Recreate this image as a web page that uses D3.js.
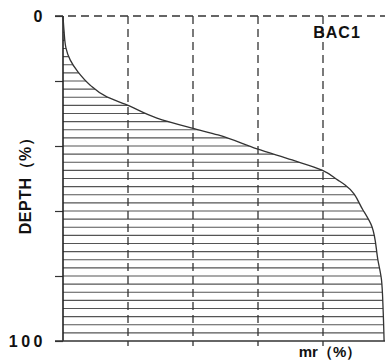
<!DOCTYPE html>
<html>
<head>
<meta charset="utf-8">
<script src="https://cdn.jsdelivr.net/npm/d3@7"></script>
<style>
  body { margin: 0; background: #fff; }
  svg { display: block; }
  text { font-family: "Liberation Sans", Arial, sans-serif; font-weight: bold; fill: #111; }
</style>
</head>
<body>
<svg width="385" height="362"></svg>
<script>
// curve: mr (%) against depth (%)
let depth = [0, 4.3, 9.8, 13.5, 17.2, 21.2, 24.9, 27.1, 31.4, 34.5, 36.6, 40.9, 44.3, 47.4, 50.5, 52, 59.7, 64.9, 75.1, 81.2, 90.5, 100];
let mr    = [0, 0.3, 0.9, 2.2, 4.6, 8.3, 13.5, 19.1, 28.9, 39.7, 47.7, 59.7, 70.5, 79.7, 84.6, 86.8, 92.3, 95.1, 96.9, 98.0, 98.5, 98.8];
let hatchDepths = [2.5, 5, 7.5, 10, 12.5, 15, 17.5, 20, 22.5, 25, 27.5, 30, 32.5, 35, 37.5, 40, 42.5, 45, 47.5, 50,
                   52.5, 55, 57.5, 60, 62.5, 65, 67.5, 70, 72.5, 75, 77.5, 80, 82.5, 85, 87.5, 90, 92.5, 95, 97.5];
let xGrid = [20, 40, 60, 80];
let yTicks = [0, 20, 40, 60, 80, 100];
let yLabels = [0, 100];
let seriesName = "BAC1";

let data = depth.map(function(d, i) { return {depth: d, mr: mr[i]}; });

let svg = d3.select("svg");
let x = d3.scaleLinear().domain([0, 100]).range([63, 388]);
let y = d3.scaleLinear().domain([0, 100]).range([16, 341]);

// area under the curve, used as clip for the hatching
let area = d3.area()
    .y(function(d) { return y(d.depth); })
    .x0(x(0))
    .x1(function(d) { return x(d.mr); })
    .curve(d3.curveMonotoneY);

svg.append("clipPath").attr("id", "under")
   .append("path").datum(data).attr("d", area);

// hatch lines
svg.append("g").attr("clip-path", "url(#under)")
   .selectAll("line").data(hatchDepths).enter().append("line")
   .attr("x1", x(0)).attr("x2", x(100))
   .attr("y1", function(d) { return y(d); })
   .attr("y2", function(d) { return y(d); })
   .attr("stroke", "#555").attr("stroke-width", 1.2);

// vertical dashed grid
svg.append("g").selectAll("line").data(xGrid).enter().append("line")
   .attr("x1", function(d) { return x(d); })
   .attr("x2", function(d) { return x(d); })
   .attr("y1", y(0)).attr("y2", y(100) + 5)
   .attr("stroke", "#333").attr("stroke-width", 1.3)
   .attr("stroke-dasharray", "8,5");

// top dashed line
svg.append("line")
   .attr("x1", x(0) - 8).attr("x2", 385)
   .attr("y1", y(0)).attr("y2", y(0))
   .attr("stroke", "#333").attr("stroke-width", 1.3)
   .attr("stroke-dasharray", "8,5");

// left axis
let yAxis = d3.axisLeft(y).tickValues(yTicks).tickSize(8).tickFormat("");
let ga = svg.append("g").attr("transform", "translate(" + x(0) + ",0)").call(yAxis);
ga.select(".domain").remove();
ga.selectAll("line").attr("stroke", "#333").attr("stroke-width", 1.2);
svg.append("line")
   .attr("x1", x(0)).attr("x2", x(0))
   .attr("y1", y(0)).attr("y2", y(100))
   .attr("stroke", "#222").attr("stroke-width", 1.6);

// bottom axis line
svg.append("line")
   .attr("x1", x(0) - 8).attr("x2", 385)
   .attr("y1", y(100)).attr("y2", y(100))
   .attr("stroke", "#333").attr("stroke-width", 1.6);

// curve
let line = d3.line()
    .x(function(d) { return x(d.mr); })
    .y(function(d) { return y(d.depth); })
    .curve(d3.curveMonotoneY);

svg.append("path").datum(data)
   .attr("fill", "none").attr("stroke", "#333").attr("stroke-width", 1.3)
   .attr("d", line);

// tick labels
svg.selectAll("text.ylab").data(yLabels).enter().append("text")
   .attr("class", "ylab")
   .attr("x", 46).attr("y", function(d) { return y(d) + 6; })
   .attr("text-anchor", "end")
   .attr("font-size", 16).attr("letter-spacing", 3.5)
   .text(function(d) { return d; });

// axis titles
svg.append("text")
   .attr("transform", "translate(31,182) rotate(-90)")
   .attr("text-anchor", "middle").attr("font-size", 16).attr("letter-spacing", 0.5)
   .text("DEPTH（%）");

svg.append("text")
   .attr("x", 330).attr("y", 357)
   .attr("text-anchor", "middle").attr("font-size", 15)
   .text("mr（%）");

svg.append("text")
   .attr("x", 337).attr("y", 38)
   .attr("text-anchor", "middle").attr("font-size", 16).attr("letter-spacing", 1)
   .text(seriesName);
</script>
</body>
</html>
